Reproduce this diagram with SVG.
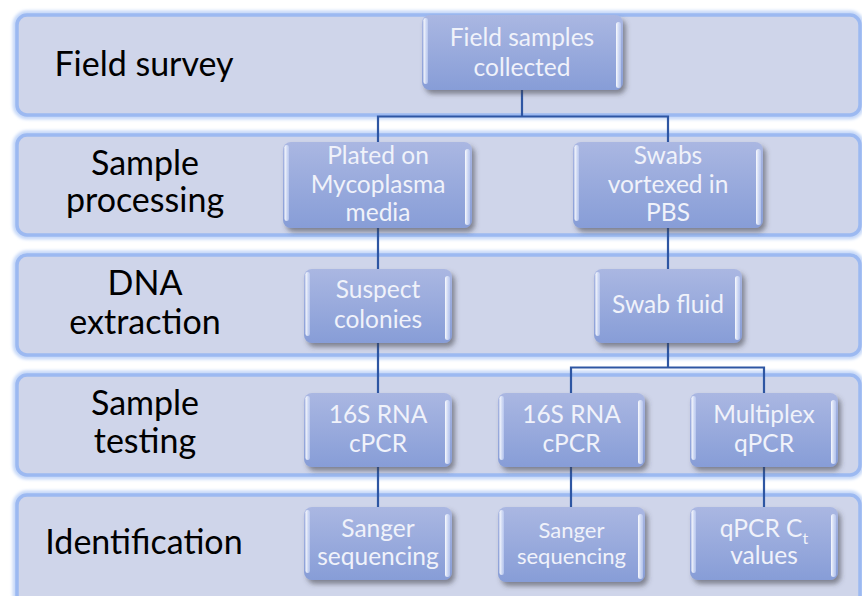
<svg xmlns="http://www.w3.org/2000/svg" width="862" height="596" viewBox="0 0 862 596">
<defs>
<linearGradient id="ng" x1="0" y1="0" x2="0" y2="1">
<stop offset="0" stop-color="#AAB7E2"/>
<stop offset="1" stop-color="#879DD7"/>
</linearGradient>
<linearGradient id="hl" x1="0" y1="0" x2="1" y2="0">
<stop offset="0" stop-color="#FFFFFF" stop-opacity="0.95"/>
<stop offset="1" stop-color="#C8D6F8" stop-opacity="0.6"/>
</linearGradient>
<filter id="sh" x="-10%" y="-10%" width="125%" height="130%">
<feDropShadow dx="3" dy="4" stdDeviation="2.5" flood-color="#404048" flood-opacity="0.55"/>
</filter>
<filter id="glow" x="-5%" y="-20%" width="110%" height="140%">
<feGaussianBlur stdDeviation="1.5"/>
</filter>
<style>
.bandglow{fill:none;stroke:#C6D8F8;stroke-width:9;filter:url(#glow)}
.band{fill:#CFD5EA;stroke:#9CB9F1;stroke-width:3.5}
.node rect.b{fill:url(#ng);filter:url(#sh)}
.node rect.h{fill:url(#hl)}
.lab{font-family:Lato,"Open Sans",sans-serif;font-size:34px;fill:#000;text-anchor:middle}
.nt{font-family:Lato,"Open Sans",sans-serif;font-size:24.5px;fill:#F0F2FA;text-anchor:middle}
.sm{font-size:22px}
.con{fill:none;stroke:#2E56A3;stroke-width:2.2}
</style>
</defs>
<g id="bands">
<rect class="bandglow" x="17" y="15" width="843" height="100" rx="10"/>
<rect class="bandglow" x="17" y="135" width="843" height="100" rx="10"/>
<rect class="bandglow" x="17" y="255" width="843" height="100" rx="10"/>
<rect class="bandglow" x="17" y="375" width="843" height="100" rx="10"/>
<rect class="bandglow" x="17" y="495" width="843" height="110" rx="10"/>
<rect class="band" x="17" y="15" width="843" height="100" rx="10"/>
<rect class="band" x="17" y="135" width="843" height="100" rx="10"/>
<rect class="band" x="17" y="255" width="843" height="100" rx="10"/>
<rect class="band" x="17" y="375" width="843" height="100" rx="10"/>
<rect class="band" x="17" y="495" width="843" height="110" rx="10"/>
</g>
<g id="labels">
<text class="lab" x="144" y="76">Field survey</text>
<text class="lab" x="145" y="175">Sample</text>
<text class="lab" x="145" y="212">processing</text>
<text class="lab" x="145" y="295">DNA</text>
<text class="lab" x="145" y="334">extraction</text>
<text class="lab" x="145" y="415">Sample</text>
<text class="lab" x="145" y="453">testing</text>
<text class="lab" x="144" y="554">Identification</text>
</g>
<g id="connectors">
<path class="con" d="M522 90V116.5M378 142V116.5H668V142"/>
<path class="con" d="M378 228V269M378 343V393M378 467V507"/>
<path class="con" d="M668 228V269M668 343V367.5M571 393V367.5H764V393"/>
<path class="con" d="M571 467V507M764 467V507"/>
</g>
<g id="n1" class="node">
<rect class="b" x="422" y="15" width="201" height="75" rx="8"/>
<rect class="h" x="423.5" y="18" width="4.5" height="66" rx="2.2"/>
<rect class="h" x="616" y="22" width="5" height="66" rx="2.5"/>
<text class="nt" x="522" y="46">Field samples</text>
<text class="nt" x="522" y="76">collected</text>
</g>
<g id="n2" class="node">
<rect class="b" x="283" y="142" width="189" height="86" rx="8"/>
<rect class="h" x="284.5" y="145" width="4.5" height="76" rx="2.2"/>
<rect class="h" x="465" y="149" width="5" height="76" rx="2.5"/>
<text class="nt" x="378" y="164">Plated on</text>
<text class="nt" x="378" y="193">Mycoplasma</text>
<text class="nt" x="378" y="221">media</text>
</g>
<g id="n3" class="node">
<rect class="b" x="573" y="142" width="190" height="86" rx="8"/>
<rect class="h" x="574.5" y="145" width="4.5" height="76" rx="2.2"/>
<rect class="h" x="756" y="149" width="5" height="76" rx="2.5"/>
<text class="nt" x="668" y="164">Swabs</text>
<text class="nt" x="668" y="193">vortexed in</text>
<text class="nt" x="668" y="221">PBS</text>
</g>
<g id="n4" class="node">
<rect class="b" x="304" y="269" width="148" height="74" rx="8"/>
<rect class="h" x="305.5" y="272" width="4.5" height="64" rx="2.2"/>
<rect class="h" x="445" y="276" width="5" height="64" rx="2.5"/>
<text class="nt" x="378" y="298">Suspect</text>
<text class="nt" x="378" y="328">colonies</text>
</g>
<g id="n5" class="node">
<rect class="b" x="594" y="269" width="148" height="74" rx="8"/>
<rect class="h" x="595.5" y="272" width="4.5" height="64" rx="2.2"/>
<rect class="h" x="735" y="276" width="5" height="64" rx="2.5"/>
<text class="nt" x="668" y="313">Swab fluid</text>
</g>
<g id="n6" class="node">
<rect class="b" x="304" y="393" width="148" height="74" rx="8"/>
<rect class="h" x="305.5" y="396" width="4.5" height="64" rx="2.2"/>
<rect class="h" x="445" y="400" width="5" height="64" rx="2.5"/>
<text class="nt" x="378" y="423">16S RNA</text>
<text class="nt" x="378" y="452">cPCR</text>
</g>
<g id="n7" class="node">
<rect class="b" x="498" y="393" width="147" height="74" rx="8"/>
<rect class="h" x="499.5" y="396" width="4.5" height="64" rx="2.2"/>
<rect class="h" x="638" y="400" width="5" height="64" rx="2.5"/>
<text class="nt" x="571.5" y="423">16S RNA</text>
<text class="nt" x="571.5" y="452">cPCR</text>
</g>
<g id="n8" class="node">
<rect class="b" x="690" y="393" width="148" height="74" rx="8"/>
<rect class="h" x="691.5" y="396" width="4.5" height="64" rx="2.2"/>
<rect class="h" x="831" y="400" width="5" height="64" rx="2.5"/>
<text class="nt" x="764" y="423">Multiplex</text>
<text class="nt" x="764" y="452">qPCR</text>
</g>
<g id="n9" class="node">
<rect class="b" x="304" y="507" width="148" height="73" rx="8"/>
<rect class="h" x="305.5" y="510" width="4.5" height="63" rx="2.2"/>
<rect class="h" x="445" y="514" width="5" height="63" rx="2.5"/>
<text class="nt" x="378" y="537">Sanger</text>
<text class="nt" x="378" y="565">sequencing</text>
</g>
<g id="n10" class="node">
<rect class="b" x="498" y="507" width="147" height="75" rx="8"/>
<rect class="h" x="499.5" y="510" width="4.5" height="65" rx="2.2"/>
<rect class="h" x="638" y="514" width="5" height="65" rx="2.5"/>
<text class="nt sm" x="571.5" y="538">Sanger</text>
<text class="nt sm" x="571.5" y="564">sequencing</text>
</g>
<g id="n11" class="node">
<rect class="b" x="690" y="507" width="148" height="73" rx="8"/>
<rect class="h" x="691.5" y="510" width="4.5" height="63" rx="2.2"/>
<rect class="h" x="831" y="514" width="5" height="63" rx="2.5"/>
<text class="nt" x="764" y="537">qPCR C<tspan font-size="16" dy="7">t</tspan></text>
<text class="nt" x="764" y="564">values</text>
</g>
</svg>
